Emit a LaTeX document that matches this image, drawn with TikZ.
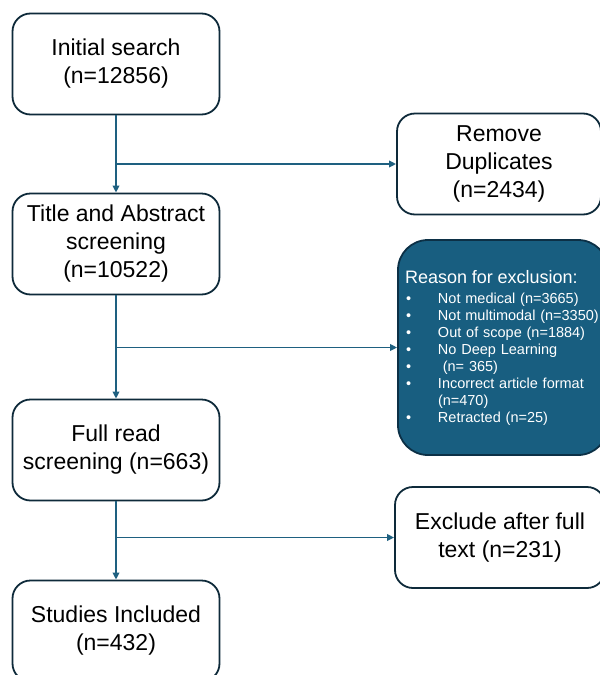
\documentclass[tikz,border=0pt]{standalone}
\usepackage{fontspec}
\setmainfont{Liberation Sans}
\usetikzlibrary{arrows.meta}
\definecolor{boxline}{RGB}{14,42,58}
\definecolor{flowline}{RGB}{30,96,128}
\definecolor{reasonfill}{RGB}{24,94,128}
\definecolor{reasonline}{RGB}{12,48,70}
\newcommand{\bul}[1]{\hspace*{1pt}\makebox[32pt][l]{\textbullet}#1}
\begin{document}
\begin{tikzpicture}[x=1pt, y=-1pt,
          every node/.style = {inner sep=4pt},
          stage/.style = {shape=rectangle, draw=boxline, line width=1.8pt, fill=white, rounded corners=18pt,
                          minimum width=207pt, minimum height=101pt, align=center,
                          font=\fontsize{23}{28}\selectfont},
          reason/.style = {shape=rectangle, draw=reasonline, line width=1.8pt, fill=reasonfill, rounded corners=30pt,
                          minimum height=215pt, text width=196pt, inner xsep=7pt, align=left, text=white,
                          font=\fontsize{14.5}{17}\selectfont},
          flow/.style = {draw=flowline, line width=1.8pt, -{Triangle[length=7pt,width=6.5pt]}}]
          \clip (0,0) rectangle (600,675);
          \fill[white] (0,0) rectangle (600,675);
          % left column
          \node[stage] (init) at (116,64) {Initial search\\(n=12856)};
          \node[stage] (title) at (116,244) {Title and Abstract\\screening\\(n=10522)};
          \node[stage] (full) at (116,450) {Full read\\screening (n=663)};
          \node[stage] (incl) at (116,631) {Studies Included\\(n=432)};
          % right column
          \node[stage, minimum width=204pt] (dupl) at (499,164) {Remove\\Duplicates\\(n=2434)};
          \node[reason] (excl) at (503,347.5) {{\fontsize{18}{17}\selectfont Reason for exclusion:}\\[3pt]
            \bul{Not medical (n=3665)}\\
            \bul{Not multimodal (n=3350)}\\
            \bul{Out of scope (n=1884)}\\
            \bul{No Deep Learning}\\
            \bul{\ (n= 365)}\\
            \bul{Incorrect article format}\\
            \hspace*{33pt}(n=470)\\
            \bul{Retracted (n=25)}};
          \node[stage, minimum width=210pt] (late) at (500,537.5) {Exclude after full\\text (n=231)};
          % connectors
          \draw[flow] (init) -- (title);
          \draw[flow] (init.south |- dupl.west) -- (dupl.west);
          \draw[flow] (title) -- (full);
          \draw[flow] (title.south |- excl.west) -- (excl.west);
          \draw[flow] (full) -- (incl);
          \draw[flow] (full.south |- late.west) -- (late.west);
\end{tikzpicture}
\end{document}
